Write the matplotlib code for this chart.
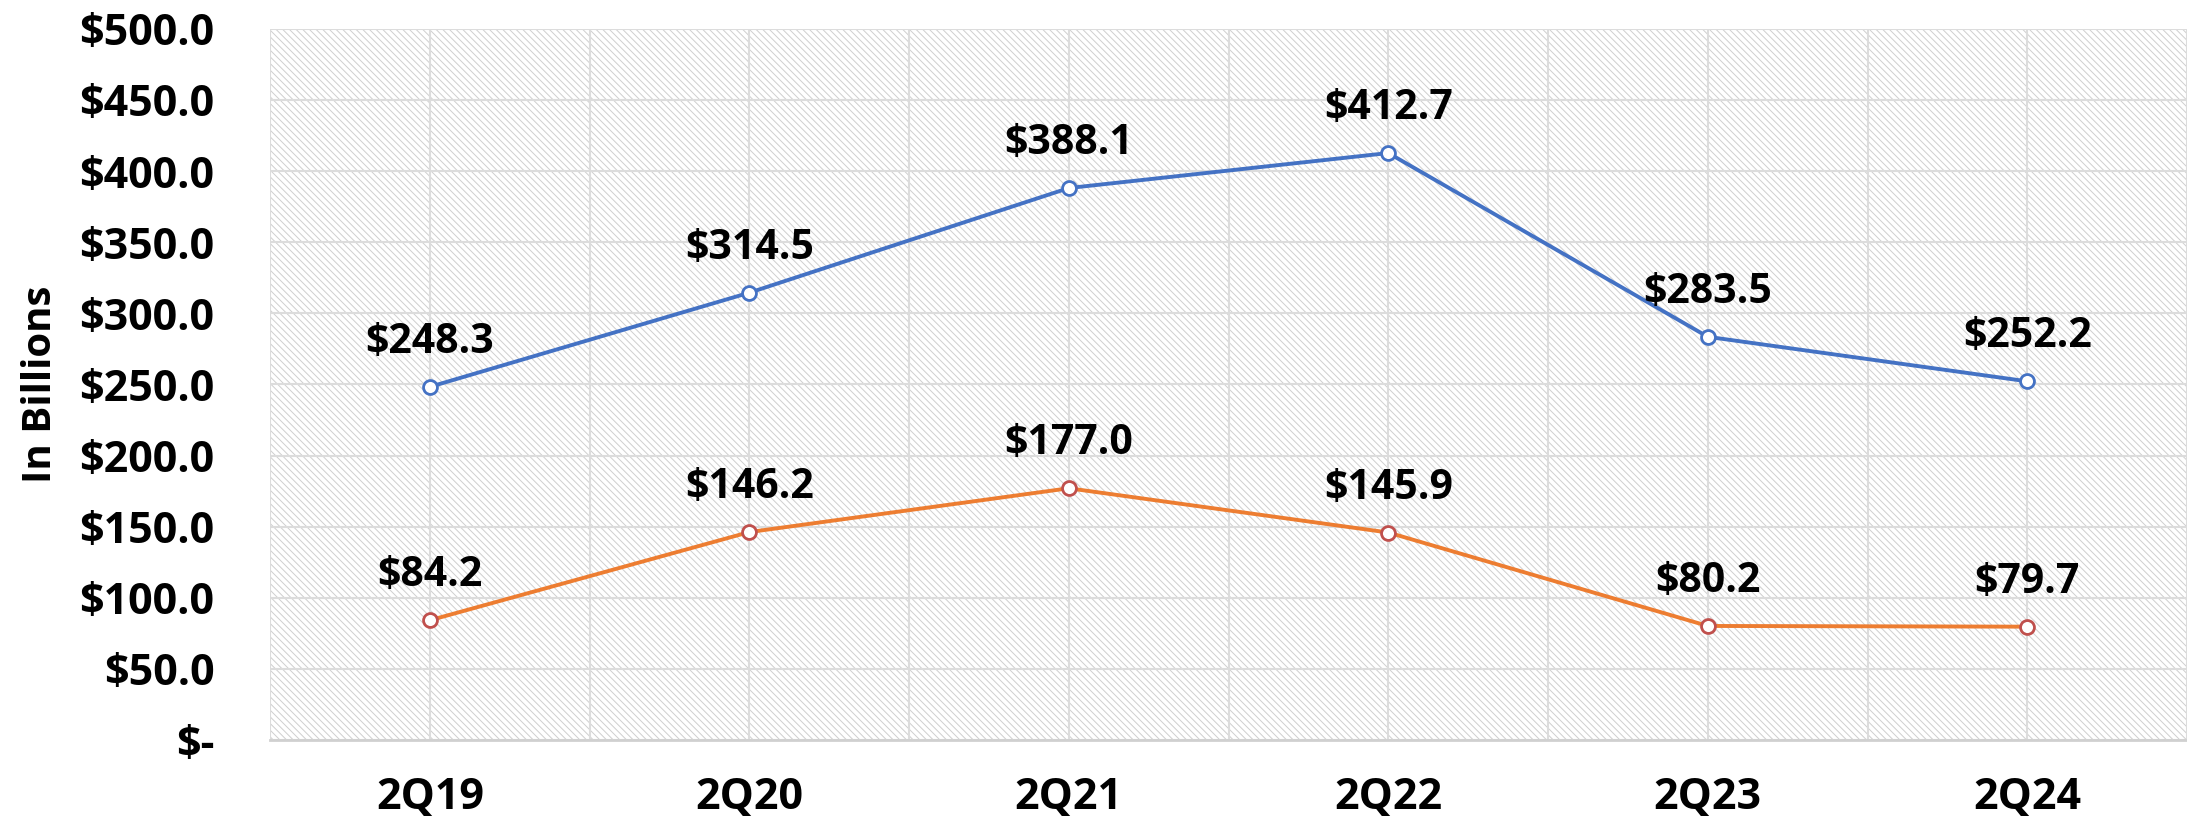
import matplotlib
matplotlib.use("Agg")
import matplotlib.pyplot as plt
import numpy as np

# data (in billions)
quarters = ['2Q19', '2Q20', '2Q21', '2Q22', '2Q23', '2Q24']
blue_vals = [248.3, 314.5, 388.1, 412.7, 283.5, 252.2]
orange_vals = [84.2, 146.2, 177.0, 145.9, 80.2, 79.7]
yticks = [0, 50, 100, 150, 200, 250, 300, 350, 400, 450, 500]

plt.rcParams['font.family'] = ['Open Sans', 'DejaVu Sans']
plt.rcParams['hatch.linewidth'] = 0.7
plt.rcParams['hatch.color'] = '#cfcfcf'

fig = plt.figure(figsize=(21.87, 8.25), dpi=100)
ax = fig.add_axes([0.1235, 0.103, 0.8765, 0.862])

x = np.arange(len(quarters))

# hatched plot background
ax.add_patch(plt.Rectangle((0, 0), 1, 1, transform=ax.transAxes, facecolor='white',
                           edgecolor='#cfcfcf', hatch='\\\\\\\\\\', linewidth=0, zorder=0))

ax.set_xlim(-0.5, len(quarters) - 0.5)
ax.set_ylim(0, 500)
ax.set_yticks(yticks)
ax.set_yticklabels(['$-' if v == 0 else '${:.1f}'.format(v) for v in yticks])
ax.set_xticks(x)
ax.set_xticklabels(quarters)
ax.set_xticks(np.arange(-0.5, len(quarters), 1.0), minor=True)

ax.grid(True, which='both', color='#dcdcdc', linewidth=1.5, zorder=1)
ax.set_axisbelow(True)
ax.tick_params(which='both', length=0)
ax.tick_params(axis='y', pad=40, labelsize=31)
ax.tick_params(axis='x', pad=26, labelsize=31)
for lab in ax.get_xticklabels() + ax.get_yticklabels():
    lab.set_fontweight('bold')

for s in ['top', 'right', 'left']:
    ax.spines[s].set_visible(False)
ax.spines['bottom'].set_color('#d0d0d0')
ax.spines['bottom'].set_linewidth(2)

ax.plot(x, blue_vals, color='#4472C4', linewidth=2.8, marker='o', markersize=10,
        markerfacecolor='white', markeredgecolor='#4472C4', markeredgewidth=2, zorder=3)
ax.plot(x, orange_vals, color='#ED7D31', linewidth=2.8, marker='o', markersize=10,
        markerfacecolor='white', markeredgecolor='#C0504D', markeredgewidth=2, zorder=3)

for xi, v in zip(x, blue_vals):
    ax.annotate('${:.1f}'.format(v), (xi, v), xytext=(0, 32), textcoords='offset points',
                ha='center', va='center', fontsize=29.5, fontweight='bold')
for xi, v in zip(x, orange_vals):
    ax.annotate('${:.1f}'.format(v), (xi, v), xytext=(0, 32), textcoords='offset points',
                ha='center', va='center', fontsize=29.5, fontweight='bold')

ax.set_ylabel('In Billions', fontsize=29, fontweight='bold', labelpad=14)

fig.savefig('out.png', dpi=100)
